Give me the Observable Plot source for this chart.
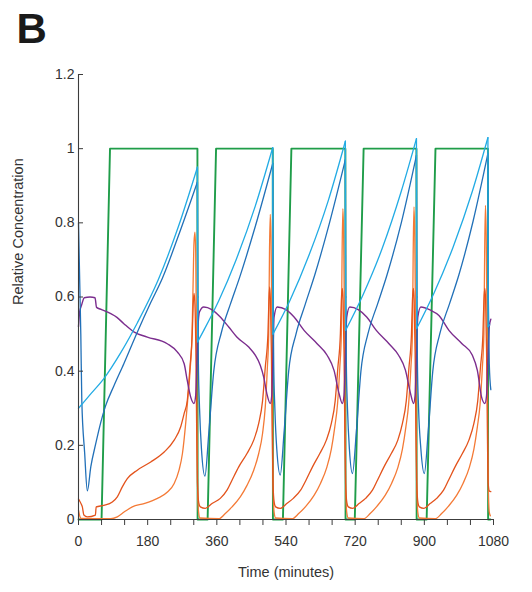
<!DOCTYPE html>
<html><head><meta charset="utf-8">
<script src="https://cdn.jsdelivr.net/npm/d3@7"></script>
<script src="https://cdn.jsdelivr.net/npm/@observablehq/plot@0.6"></script>
<style>body{margin:0;background:#fff}#chart{width:532px;height:592px}</style>
</head><body><div id="chart"></div>
<script>
// Each series: [time (minutes), relative concentration]
const green = [[0,0],[60,0],[82,1],[309.5,1],[310,0],[336,0],[358,1],[505.5,1],[506,0],[532,0],[554,1],[694.5,1],[695,0],[719,0],[742,1],[879.5,1],[880,0],[906,0],[929,1],[1065.5,1],[1066,0],[1072,0]];

const skyBlue = [[0,0.30],[33,0.34],[66,0.38],[110,0.45],[153,0.53],[207,0.645],[260,0.79],[309.5,0.95],
  [310,0.479],[326,0.51],[365,0.59],[410,0.70],[460,0.845],[505.5,1.003],
  [506,0.50],[550,0.59],[600,0.713],[650,0.86],[694.5,1.02],
  [695,0.51],[740,0.605],[790,0.73],[840,0.885],[879.5,1.027],
  [880,0.515],[925,0.61],[975,0.735],[1025,0.885],[1065.5,1.03],
  [1066,0.52],[1070,0.525]];

const darkBlue = [[0,0.80],[4,0.6],[6,0.5],[8.6,0.32],[16,0.18],[23,0.077],[32,0.142],[45,0.205],[58,0.262],[70,0.305],[92,0.36],[118,0.42],[153,0.505],[188,0.585],[218,0.65],[260,0.765],[309.5,0.91],
  [310.5,0.6],[312,0.42],[315,0.3],[320,0.19],[329,0.117],[339,0.232],[352,0.40],[372,0.505],[395,0.58],[420,0.655],[460,0.79],[505.5,0.96],
  [506.5,0.6],[508,0.42],[511,0.3],[516,0.19],[525,0.12],[535,0.235],[547,0.40],[566,0.50],[590,0.58],[615,0.66],[652,0.795],[694.5,0.97],
  [695.5,0.6],[697,0.42],[700,0.3],[705,0.19],[713,0.124],[723,0.235],[735,0.40],[753,0.50],[778,0.58],[803,0.66],[840,0.80],[879.5,0.982],
  [880.5,0.6],[882,0.42],[885,0.3],[891,0.19],[900,0.124],[910,0.235],[922,0.40],[940,0.50],[965,0.58],[990,0.66],[1027,0.805],[1065.5,0.987],
  [1066.5,0.6],[1069,0.42],[1073,0.35]];

const purple = [[0,0.52],[3,0.56],[8,0.578],[15,0.598],[30,0.6],[43,0.598],[47,0.572],[60,0.566],[84,0.555],[100,0.545],[118,0.528],[144,0.506],[179,0.492],[231,0.474],[257,0.452],[275,0.42],[283,0.375],[292,0.33],[300.6,0.313],[305,0.335],[308,0.42],[311,0.52],[315,0.56],[326,0.573],
  [347,0.566],[369,0.546],[391,0.519],[412,0.492],[443,0.465],[460,0.443],[473,0.416],[482,0.384],[490,0.34],[499,0.313],[503,0.335],[505.5,0.42],[509,0.546],[517,0.573],
  [540,0.566],[561,0.546],[587,0.51],[621,0.474],[647,0.443],[665,0.402],[678,0.34],[686.6,0.313],[691,0.335],[694,0.42],[698,0.546],[706,0.573],
  [728,0.566],[750,0.546],[775,0.51],[808,0.474],[833,0.443],[851,0.402],[864,0.34],[872,0.313],[876,0.335],[879,0.42],[883,0.546],[891,0.573],
  [915,0.565],[938,0.55],[964,0.51],[998,0.474],[1025,0.443],[1038,0.402],[1049,0.33],[1057.5,0.313],[1062,0.335],[1065,0.42],[1069,0.52],[1073,0.54]];

const orangeA = [[0,0.055],[3,0.05],[7,0.042],[10,0.034],[14,0.012],[23,0.007],[44,0.012],[46,0.034],[66,0.038],[88,0.047],[101,0.061],[114,0.088],[127,0.11],[153,0.133],[188,0.155],[223,0.182],[249,0.214],[266,0.25],[275,0.286],[283,0.32],[290,0.41],[296,0.5],[298.5,0.58],[300.7,0.61],[303,0.58],[305.5,0.45],[307.5,0.25],[309.5,0.1],[313,0.045],[317,0.034],
  [330,0.03],[347.5,0.043],[369,0.057],[386.5,0.079],[399.5,0.106],[417,0.142],[438.5,0.178],[456,0.214],[469,0.259],[479,0.32],[486,0.41],[493,0.5],[495.5,0.59],[497.5,0.627],[499.5,0.59],[502,0.45],[504,0.25],[506,0.1],[509.5,0.045],[513,0.034],
  [525,0.03],[542,0.043],[559,0.057],[578,0.079],[592,0.106],[609,0.142],[628,0.178],[645,0.214],[658,0.259],[668,0.32],[675,0.41],[681.5,0.5],[684,0.59],[686.5,0.623],[688.5,0.59],[691,0.45],[693,0.25],[695,0.1],[698.5,0.045],[702,0.034],
  [714,0.03],[730,0.043],[747,0.057],[765,0.079],[778,0.106],[795,0.142],[814,0.178],[831,0.214],[843,0.259],[853,0.32],[860,0.41],[866.5,0.5],[869,0.59],[871.5,0.623],[873.5,0.59],[876,0.45],[878,0.25],[880,0.1],[883.5,0.045],[887,0.034],
  [899,0.03],[915,0.043],[932,0.057],[950,0.079],[963,0.106],[980,0.142],[999,0.178],[1016,0.214],[1029,0.259],[1039,0.32],[1046,0.41],[1052.5,0.5],[1055,0.59],[1057.5,0.623],[1059.5,0.59],[1062,0.45],[1064,0.25],[1066,0.1],[1069,0.077],[1073,0.075]];

const orangeB = [[0,0.025],[3,0.01],[6,0.003],[84,0.002],[101,0.007],[118.6,0.02],[140,0.034],[170.6,0.043],[205.5,0.057],[231.5,0.074],[249,0.097],[261.6,0.133],[270.5,0.178],[279,0.26],[284,0.32],[291,0.41],[295.5,0.5],[298.5,0.65],[300.5,0.745],[303,0.775],[305,0.72],[307,0.5],[308.5,0.25],[310,0.08],[312.5,0.02],[316,0.004],
  [365,0.002],[382,0.016],[399.5,0.034],[421,0.061],[438.5,0.092],[456,0.133],[469,0.178],[479,0.232],[486,0.303],[491.5,0.41],[495,0.5],[497,0.72],[499,0.823],[501,0.76],[503.4,0.51],[505,0.25],[506.5,0.08],[509,0.02],[513,0.004],
  [556,0.002],[573,0.016],[592,0.036],[613,0.065],[630,0.098],[646,0.14],[658,0.19],[667,0.25],[674,0.31],[680,0.41],[684,0.5],[686,0.72],[688,0.838],[690,0.77],[692.4,0.51],[694,0.25],[695.5,0.08],[698,0.02],[702,0.004],
  [742,0.002],[759,0.016],[777,0.036],[798,0.065],[815,0.098],[831,0.14],[843,0.19],[852,0.25],[859,0.31],[865,0.41],[869,0.5],[871,0.72],[873,0.843],[875,0.77],[877.4,0.51],[879,0.25],[880.5,0.08],[883,0.02],[887,0.004],
  [928,0.002],[945,0.016],[963,0.036],[984,0.065],[1001,0.098],[1017,0.14],[1029,0.19],[1038,0.25],[1045,0.31],[1051,0.41],[1055,0.5],[1057,0.72],[1059,0.847],[1061,0.77],[1063.4,0.51],[1065,0.25],[1066.5,0.08],[1069,0.02],[1072,0.01]];

const xTicks = [0,60,120,180,240,300,360,420,480,540,600,660,720,780,840,900,960,1020,1080];
const xLabelTicks = [0,180,360,540,720,900,1080];
const yTicks = [0,0.2,0.4,0.6,0.8,1,1.2];

const series = [
  {name:"green", pts:green, color:"#1f9d49", w:1.9, curve:"linear", split:false},
  {name:"orangeB", pts:orangeB, color:"#f47a36", w:1.3, curve:"monotone-x", split:false},
  {name:"orangeA", pts:orangeA, color:"#e3531c", w:1.3, curve:"monotone-x", split:false},
  {name:"purple", pts:purple, color:"#7b2d8e", w:1.4, curve:"monotone-x", split:false},
  {name:"darkBlue", pts:darkBlue, color:"#2170b8", w:1.3, curve:"monotone-x", split:true},
  {name:"skyBlue", pts:skyBlue, color:"#22abe4", w:1.3, curve:"monotone-x", split:true}
];

// Split the sawtooth series at their sudden drops so each rise keeps its sharp peak;
// each drop is drawn as its own straight piece.
function toRows(pts, split) {
  const rows = [];
  let seg = 0;
  pts.forEach(([t, v], i) => {
    if (split && i > 0) {
      const [pt, pv] = pts[i - 1];
      if (pv - v > 0.2 && t - pt <= 1.5) {
        rows.push({t: pt, v: pv, seg: "drop" + i}, {t, v, seg: "drop" + i});
        seg++;
      }
    }
    rows.push({t, v, seg: "s" + seg});
  });
  return rows;
}

const lineMarks = series.map(s => Plot.line(toRows(s.pts, s.split), {
  x:"t", y:"v", z:"seg", stroke:s.color, strokeWidth:s.w, curve:s.curve, strokeLinejoin:"round", strokeLinecap:"round"
}));

const axisColor = "#3c3c3c";
const chart = Plot.plot({
  width:532, height:592,
  marginLeft:78, marginRight:39, marginTop:74, marginBottom:73,
  x:{domain:[0,1080]},
  y:{domain:[0,1.2]},
  style:{fontFamily:"'Liberation Sans', Arial, Helvetica, sans-serif", fontSize:"14px", color:"#333", background:"#fff"},
  marks:[
    ...lineMarks,
    Plot.ruleX([0], {y1:0, y2:1.2, stroke:axisColor, strokeWidth:1.1}),
    Plot.ruleY([0], {x1:0, x2:1080, stroke:axisColor, strokeWidth:1.1}),
    Plot.axisX({ticks:xTicks, tickSize:6, tickFormat:() => "", label:null, stroke:axisColor}),
    Plot.axisX({ticks:xLabelTicks, tickSize:0, tickPadding:17, tickFormat:d => String(d), label:null, fill:"#333", fontSize:14}),
    Plot.axisY({ticks:yTicks, tickSize:-5, tickFormat:() => "", label:null, stroke:axisColor}),
    Plot.axisY({ticks:yTicks, tickSize:0, tickPadding:4, tickFormat:d => String(d), label:null, fill:"#333", fontSize:14}),
    Plot.text(["Time (minutes)"], {text:d => d, frameAnchor:"bottom", dy:57, fill:"#333", fontSize:14.5}),
    Plot.text(["Relative Concentration"], {text:d => d, frameAnchor:"left", dx:-60, dy:8, rotate:-90, fill:"#333", fontSize:14.5}),
    Plot.text(["B"], {text:d => d, frameAnchor:"top-left", dx:-62, dy:-32, lineAnchor:"bottom", textAnchor:"start", fontSize:42, fontWeight:"bold", fill:"#1a1a1a"})
  ]
});
document.getElementById("chart").appendChild(chart);
</script>
</body></html>
